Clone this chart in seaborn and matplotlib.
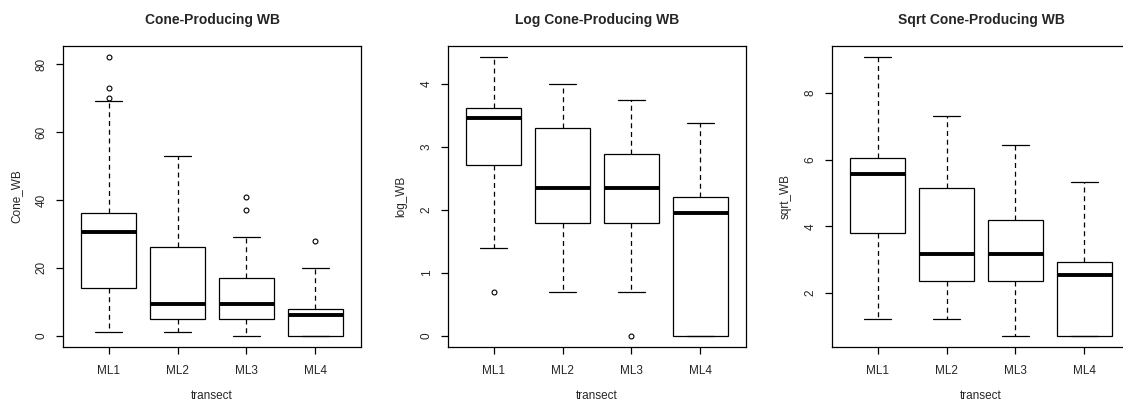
import numpy as np
import pandas as pd
import matplotlib
matplotlib.use("Agg")
import matplotlib.pyplot as plt
import seaborn as sns

# ---------------- data (five-number summaries) ----------------
transects = ["ML1", "ML2", "ML3", "ML4"]

cone_whislo = [1, 1, 0, 0]
cone_q1 = [14, 5, 5, 0]
cone_med = [30.5, 9.5, 9.5, 6]
cone_q3 = [36, 26, 17, 8]
cone_whishi = [69, 53, 29, 20]
cone_low_out = [[], [], [], []]
cone_high_out = [[70, 73, 82], [], [37, 41], [28]]

log_whislo = [1.386, 0.693, 0.693, 0.0]
log_q1 = [2.708, 1.792, 1.792, 0.0]
log_med = [3.450, 2.351, 2.351, 1.946]
log_q3 = [3.611, 3.296, 2.890, 2.197]
log_whishi = [4.419, 3.989, 3.738, 3.367]
log_low_out = [[0.693], [], [0.0], []]
log_high_out = [[], [], [], []]

sqrt_whislo = [1.225, 1.225, 0.707, 0.707]
sqrt_q1 = [3.808, 2.345, 2.345, 0.707]
sqrt_med = [5.568, 3.162, 3.162, 2.550]
sqrt_q3 = [6.042, 5.148, 4.183, 2.915]
sqrt_whishi = [9.083, 7.314, 6.442, 5.339]
sqrt_low_out = [[], [], [], []]
sqrt_high_out = [[], [], [], []]

titles = ["Cone-Producing WB", "Log Cone-Producing WB", "Sqrt Cone-Producing WB"]
ylabels = ["Cone_WB", "log_WB", "sqrt_WB"]
yticks = [[0, 20, 40, 60, 80], [0, 1, 2, 3, 4], [2, 4, 6, 8]]


def sample_from_summary(lo, q1, med, q3, hi, low, high):
    """Build a sample whose quartiles / whiskers / fliers equal the given summary."""
    k = max(len(low) + 1, len(high) + 1, 2)
    vals = list(low) + [lo] + [lo] * (k - 1 - len(low))
    vals += [q1] + [q1] * (k - 1)
    vals += [med] + [med] * (k - 1)
    vals += [q3] + [q3] * (k - 1 - len(high)) + [hi] + list(high)
    return vals


def build_table(whislo, q1, med, q3, whishi, low_out, high_out):
    rows = []
    for i, t in enumerate(transects):
        for v in sample_from_summary(whislo[i], q1[i], med[i], q3[i], whishi[i],
                                     low_out[i], high_out[i]):
            rows.append((t, v))
    return pd.DataFrame(rows, columns=["transect", "value"])


tables = [
    build_table(cone_whislo, cone_q1, cone_med, cone_q3, cone_whishi, cone_low_out, cone_high_out),
    build_table(log_whislo, log_q1, log_med, log_q3, log_whishi, log_low_out, log_high_out),
    build_table(sqrt_whislo, sqrt_q1, sqrt_med, sqrt_q3, sqrt_whishi, sqrt_low_out, sqrt_high_out),
]

# ---------------- style ----------------
sns.set_style("white")
plt.rcParams["font.family"] = ["Liberation Sans", "DejaVu Sans"]
plt.rcParams["axes.edgecolor"] = "black"
plt.rcParams["axes.linewidth"] = 0.9

W, H = 1123, 403
fig = plt.figure(figsize=(W / 100, H / 100), dpi=100)

lefts = [63, 448, 832]
ax_w = 298
top_px, bot_px = 46, 347

for i, (df, title, ylab, yt) in enumerate(zip(tables, titles, ylabels, yticks)):
    ax = fig.add_axes([lefts[i] / W, (H - bot_px) / H, ax_w / W, (bot_px - top_px) / H])
    sns.boxplot(
        data=df, x="transect", y="value", order=transects, ax=ax,
        color="white", linecolor="black", linewidth=0.9, width=0.8, whis=1.5,
        fliersize=3.5,
        medianprops=dict(linewidth=2.8),
        whiskerprops=dict(linestyle=(0, (4, 3))),
        flierprops=dict(marker="o", markerfacecolor="none", markeredgecolor="black",
                        markeredgewidth=0.8),
    )
    vmin, vmax = df["value"].min(), df["value"].max()
    pad = 0.04 * (vmax - vmin)
    ax.set_ylim(vmin - pad, vmax + pad)
    ax.set_xlim(-0.66, 3.66)
    ax.set_yticks(yt)
    ax.set_yticklabels([str(v) for v in yt], rotation=90, va="center", fontsize=8.5)
    ax.set_xticks(range(len(transects)))
    ax.set_xticklabels(transects, fontsize=8.5)
    ax.tick_params(axis="y", direction="out", length=5, width=0.9, color="black",
                   pad=6, left=True)
    ax.tick_params(axis="x", direction="out", length=5, width=0.9, color="black",
                   pad=8, bottom=True)
    ax.set_xlabel("transect", fontsize=8.5, labelpad=9)
    ax.set_ylabel(ylab, fontsize=8.5, labelpad=9.5)
    ax.set_title(title, fontsize=10, fontweight="bold", pad=16)
    for sp in ax.spines.values():
        sp.set_visible(True)
        sp.set_color("black")
        sp.set_linewidth(0.9)

fig.savefig("out.png", dpi=100)
